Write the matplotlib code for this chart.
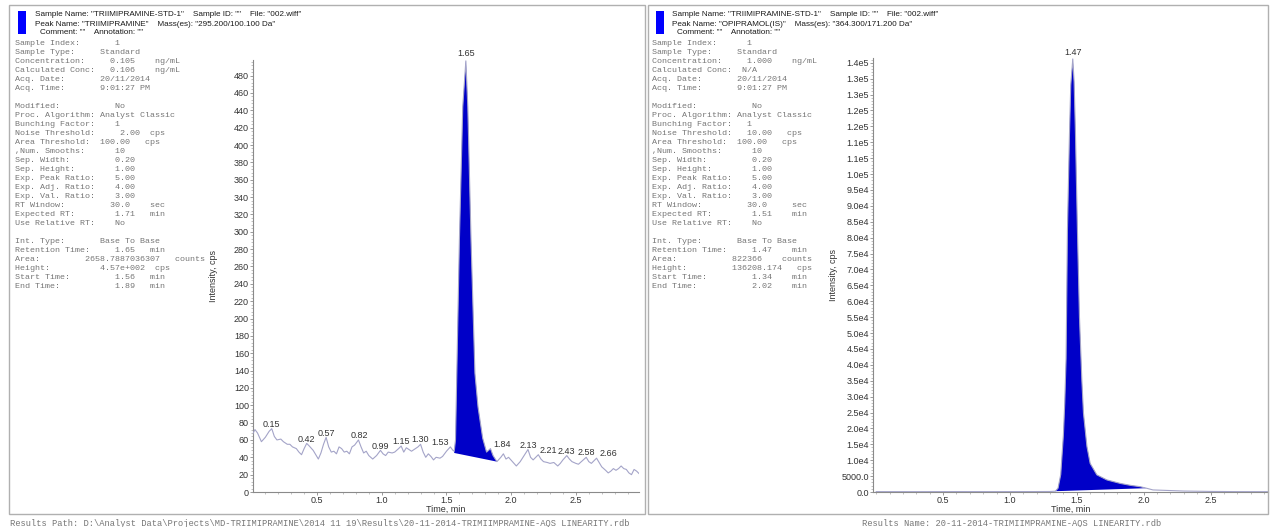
import numpy as np
import matplotlib.pyplot as plt
from matplotlib.patches import Rectangle
from matplotlib.ticker import MultipleLocator, FixedLocator, FixedFormatter

# --- figure size in pixels ---
W, H = 1271, 527

# --- left XIC: TRIIMIPRAMINE 295.2/100.1 ---
left_time = [0.00, 0.02, 0.04, 0.07, 0.10, 0.13, 0.15, 0.17, 0.19, 0.22, 0.24, 0.27, 0.29, 0.31,
             0.34, 0.36, 0.38, 0.40, 0.42, 0.44, 0.47, 0.49, 0.51, 0.53, 0.55, 0.57, 0.59, 0.61,
             0.63, 0.65, 0.67, 0.69, 0.71, 0.73, 0.75, 0.77, 0.79, 0.82, 0.84, 0.86, 0.88, 0.90,
             0.93, 0.96, 0.99, 1.01, 1.03, 1.05, 1.08, 1.10, 1.13, 1.15, 1.17, 1.19, 1.21, 1.23,
             1.26, 1.28, 1.30, 1.32, 1.34, 1.36, 1.38, 1.40, 1.42, 1.45, 1.47, 1.50, 1.53, 1.55,
             1.56, 1.57, 1.60, 1.626, 1.65, 1.665, 1.69, 1.72, 1.744, 1.78, 1.81, 1.84, 1.86, 1.89,
             1.92, 1.94, 1.96, 1.98, 2.01, 2.04, 2.07, 2.10, 2.13, 2.15, 2.17, 2.19, 2.21, 2.23,
             2.25, 2.28, 2.30, 2.33, 2.36, 2.38, 2.40, 2.43, 2.45, 2.47, 2.50, 2.52, 2.55, 2.58,
             2.60, 2.62, 2.64, 2.66, 2.68, 2.70, 2.73, 2.75, 2.77, 2.79, 2.81, 2.83, 2.85, 2.87,
             2.89, 2.91, 2.93, 2.95, 2.97, 2.99]
left_cps = [66, 72, 68, 58, 63, 70, 73, 64, 60, 61, 58, 55, 55, 52,
            50, 46, 43, 50, 56, 53, 48, 43, 38, 45, 55, 63, 52, 46,
            47, 44, 52, 50, 46, 47, 44, 52, 54, 60, 52, 45, 47, 42,
            38, 42, 48, 44, 42, 46, 45, 46, 50, 53, 46, 51, 49, 47,
            50, 52, 55, 46, 40, 44, 41, 37, 40, 39, 41, 47, 52, 48,
            47, 60, 290, 444, 497, 444, 290, 137, 98, 62, 46, 50, 42, 35,
            40, 44, 38, 40, 35, 30, 35, 42, 49, 40, 37, 40, 43, 38,
            35, 34, 33, 34, 30, 33, 37, 42, 38, 35, 33, 32, 36, 40,
            35, 33, 36, 39, 34, 29, 25, 22, 24, 27, 25, 27, 30, 27,
            26, 22, 20, 26, 24, 21]
left_peak = (1.56, 1.89)
left_baseline = (45, 35)
left_apex = ("1.65", 1.65, 497)
left_minor_labels = ["0.15", "0.42", "0.57", "0.82", "0.99", "1.15", "1.30", "1.53",
                     "1.84", "2.13", "2.21", "2.43", "2.58", "2.66"]
left_yticks = list(range(0, 481, 20))
left_xticks = [0.5, 1.0, 1.5, 2.0, 2.5]

# --- right XIC: OPIPRAMOL (IS) 364.3/171.2 ---
right_time = [0.00, 0.30, 0.60, 0.90, 1.20, 1.30, 1.34, 1.36, 1.38, 1.40, 1.41, 1.42, 1.43,
              1.445, 1.455, 1.47, 1.48, 1.49, 1.505, 1.52, 1.538, 1.55, 1.576, 1.60, 1.65,
              1.725, 1.825, 1.90, 1.974, 2.02, 2.07, 2.30, 2.50, 2.70, 2.93]
right_cps = [120, 110, 130, 120, 140, 160, 250, 1200, 5500, 18000, 28000, 42000, 82000,
             112000, 128000, 136208, 129000, 113000, 82000, 55000, 35000, 24800, 14300, 9000, 5400,
             3800, 2700, 2100, 1670, 1200, 650, 300, 180, 120, 100]
right_peak = (1.34, 2.02)
right_baseline = (250, 1200)
right_apex = ("1.47", 1.47, 136208)
right_yticks = list(range(0, 135001, 5000))
right_ylabels = ["0.0", "5000.0", "1.0e4", "1.5e4", "2.0e4", "2.5e4", "3.0e4", "3.5e4", "4.0e4",
                 "4.5e4", "5.0e4", "5.5e4", "6.0e4", "6.5e4", "7.0e4", "7.5e4", "8.0e4", "8.5e4",
                 "9.0e4", "9.5e4", "1.0e5", "1.1e5", "1.1e5", "1.2e5", "1.2e5", "1.3e5", "1.3e5",
                 "1.4e5"]

# --- header / parameter text ---
left_header = ['Sample Name: "TRIIMIPRAMINE-STD-1"    Sample ID: ""    File: "002.wiff"',
               'Peak Name: "TRIIMIPRAMINE"    Mass(es): "295.200/100.100 Da"',
               'Comment: ""    Annotation: ""']
right_header = ['Sample Name: "TRIIMIPRAMINE-STD-1"    Sample ID: ""    File: "002.wiff"',
                'Peak Name: "OPIPRAMOL(IS)"    Mass(es): "364.300/171.200 Da"',
                'Comment: ""    Annotation: ""']

left_params = [
    "Sample Index:       1",
    "Sample Type:     Standard",
    "Concentration:     0.105    ng/mL",
    "Calculated Conc:   0.106    ng/mL",
    "Acq. Date:       20/11/2014",
    "Acq. Time:       9:01:27 PM",
    "",
    "Modified:           No",
    "Proc. Algorithm: Analyst Classic",
    "Bunching Factor:    1",
    "Noise Threshold:     2.00  cps",
    "Area Threshold:  100.00   cps",
    ",Num. Smooths:      10",
    "Sep. Width:         0.20",
    "Sep. Height:        1.00",
    "Exp. Peak Ratio:    5.00",
    "Exp. Adj. Ratio:    4.00",
    "Exp. Val. Ratio:    3.00",
    "RT Window:         30.0    sec",
    "Expected RT:        1.71   min",
    "Use Relative RT:    No",
    "",
    "Int. Type:       Base To Base",
    "Retention Time:     1.65   min",
    "Area:         2658.7887036307   counts",
    "Height:          4.57e+002  cps",
    "Start Time:         1.56   min",
    "End Time:           1.89   min",
]
right_params = [
    "Sample Index:      1",
    "Sample Type:     Standard",
    "Concentration:     1.000    ng/mL",
    "Calculated Conc:  N/A",
    "Acq. Date:       20/11/2014",
    "Acq. Time:       9:01:27 PM",
    "",
    "Modified:           No",
    "Proc. Algorithm: Analyst Classic",
    "Bunching Factor:   1",
    "Noise Threshold:   10.00   cps",
    "Area Threshold:  100.00   cps",
    ",Num. Smooths:      10",
    "Sep. Width:         0.20",
    "Sep. Height:        1.00",
    "Exp. Peak Ratio:    5.00",
    "Exp. Adj. Ratio:    4.00",
    "Exp. Val. Ratio:    3.00",
    "RT Window:         30.0     sec",
    "Expected RT:        1.51    min",
    "Use Relative RT:    No",
    "",
    "Int. Type:       Base To Base",
    "Retention Time:     1.47    min",
    "Area:           822366    counts",
    "Height:         136208.174   cps",
    "Start Time:         1.34    min",
    "End Time:           2.02    min",
]
footer_left = r"Results Path: D:\Analyst Data\Projects\MD-TRIIMIPRAMINE\2014 11 19\Results\20-11-2014-TRIMIIMPRAMINE-AQS LINEARITY.rdb"
footer_right = "Results Name: 20-11-2014-TRIMIIMPRAMINE-AQS LINEARITY.rdb"

SANS = ["Liberation Sans", "DejaVu Sans"]
MONO = ["Liberation Mono", "DejaVu Sans Mono"]
TRACE = "#a4a4c8"
FILL = "#0000c8"
GREY = "#8a8a8a"


def fx(x):
    return x / W


def fy(y):
    return 1 - y / H


fig = plt.figure(figsize=(W / 100, H / 100), dpi=100)
fig.patch.set_facecolor("white")

# panel frames
for x0, x1 in [(9, 645), (648, 1268)]:
    fig.patches.append(Rectangle((fx(x0), fy(514)), fx(x1) - fx(x0), fy(5) - fy(514),
                                 transform=fig.transFigure, fill=False,
                                 edgecolor="#b0b0b0", lw=1.0))


def panel_text(x0, square_x, header, params):
    fig.patches.append(Rectangle((fx(square_x), fy(34)), fx(8), fy(11) - fy(34),
                                 transform=fig.transFigure, color="#0000ff", lw=0))
    for i, line in enumerate(header):
        indent = 5 if i == 2 else 0
        fig.text(fx(x0 + 20 + indent), fy(15 + 9 * i), line, fontsize=5.9, family=SANS,
                 color="#1a1a1a", va="center", ha="left")
    for i, line in enumerate(params):
        fig.text(fx(x0), fy(43.3 + 9.0 * i), line, fontsize=6.0, family=MONO,
                 color="#767676", va="center", ha="left")


panel_text(15, 18, left_header, left_params)
panel_text(652, 656, right_header, right_params)


def style_axis(ax):
    for s in ["top", "right"]:
        ax.spines[s].set_visible(False)
    for s in ["left", "bottom"]:
        ax.spines[s].set_color(GREY)
        ax.spines[s].set_linewidth(0.8)
    ax.tick_params(which="major", length=2.5, width=0.6, color=GREY, labelsize=6.5,
                   labelcolor="#333333", pad=0.4)
    ax.tick_params(which="minor", length=1.5, width=0.5, color="#aaaaaa")
    for lab in ax.get_xticklabels() + ax.get_yticklabels():
        lab.set_family(SANS)
    ax.xaxis.set_minor_locator(MultipleLocator(0.1))
    ax.set_xlabel("Time, min", fontsize=6.5, family=SANS, color="#333333", labelpad=-0.3)


# --- left chromatogram ---
axl = fig.add_axes([fx(253), fy(492), fx(639) - fx(253), fy(60) - fy(492)])
t = np.array(left_time)
v = np.array(left_cps)
m = (t >= left_peak[0]) & (t <= left_peak[1])
poly_x = list(t[m]) + [left_peak[1], left_peak[0]]
poly_y = list(v[m]) + [left_baseline[1], left_baseline[0]]
axl.fill(poly_x, poly_y, color=FILL, lw=0, zorder=2)
axl.plot(t, v, color=TRACE, lw=0.8, zorder=3)
axl.set_xlim(0.005, 2.988)
axl.set_ylim(0, 498)
axl.set_xticks(left_xticks)
axl.set_xticklabels([f"{x:.1f}" for x in left_xticks])
axl.set_yticks(left_yticks)
axl.yaxis.set_minor_locator(MultipleLocator(4))
style_axis(axl)
axl.set_ylabel("Intensity, cps", fontsize=6.5, family=SANS, color="#333333")
axl.yaxis.set_label_coords(fx(218 - 253) / (fx(639) - fx(253)), 0.5)

axl.text(left_apex[1], left_apex[2] + 3, left_apex[0], fontsize=6.5, family=SANS,
         color="#333333", ha="center", va="bottom")
nudge = {"1.53": -0.08, "1.84": 0.09, "2.21": 0.08, "2.66": 0.09, "0.82": 0.01}
for lab in left_minor_labels:
    rt = float(lab)
    top = np.interp(rt, t, v)
    axl.text(rt + nudge.get(lab, 0), top + 5, lab, fontsize=6.5, family=SANS,
             color="#333333", ha="center", va="center", zorder=4)

# --- right chromatogram ---
axr = fig.add_axes([fx(873), fy(492), fx(1268) - fx(873), fy(58) - fy(492)])
t2 = np.array(right_time)
v2 = np.array(right_cps)
m2 = (t2 >= right_peak[0]) & (t2 <= right_peak[1])
poly_x = list(t2[m2]) + [right_peak[1], right_peak[0]]
poly_y = list(v2[m2]) + [right_baseline[1], right_baseline[0]]
axr.fill(poly_x, poly_y, color=FILL, lw=0, zorder=2)
axr.plot(t2, v2, color=TRACE, lw=0.8, zorder=3)
axr.set_xlim(-0.024, 2.93)
axr.set_ylim(0, 136500)
axr.set_xticks(left_xticks)
axr.set_xticklabels([f"{x:.1f}" for x in left_xticks])
axr.yaxis.set_major_locator(FixedLocator(right_yticks))
axr.yaxis.set_major_formatter(FixedFormatter(right_ylabels))
axr.yaxis.set_minor_locator(MultipleLocator(1000))
style_axis(axr)
axr.set_ylabel("Intensity, cps", fontsize=6.5, family=SANS, color="#333333")
axr.yaxis.set_label_coords(fx(838 - 873) / (fx(1268) - fx(873)), 0.5)
axr.text(right_apex[1], right_apex[2] + 600, right_apex[0], fontsize=6.5, family=SANS,
         color="#333333", ha="center", va="bottom")

# --- footer ---
fig.text(fx(10), fy(523), footer_left, fontsize=6.3, family=MONO, color="#777777",
         va="center", ha="left")
fig.text(fx(862), fy(523), footer_right, fontsize=6.3, family=MONO, color="#777777",
         va="center", ha="left")

fig.savefig("out.png", dpi=100)
